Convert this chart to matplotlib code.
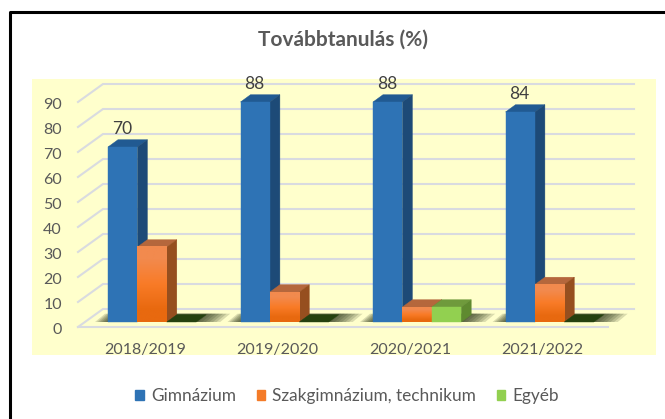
import matplotlib
matplotlib.use("Agg")
import matplotlib.pyplot as plt
import numpy as np
from matplotlib.patches import Polygon, Rectangle, Patch

plt.rcParams['font.family'] = ['Lato', 'DejaVu Sans']

# data
years = ["2018/2019", "2019/2020", "2020/2021", "2021/2022"]
gimnazium = [70, 88, 88, 84]
szakgimnazium = [30, 12, 6, 15]
egyeb = [0, 0, 6, 0]
series_names = ["Gimnázium", "Szakgimnázium, technikum", "Egyéb"]
y_ticks = [0, 10, 20, 30, 40, 50, 60, 70, 80, 90]

W, H = 665, 419
PX_X = 132.5  # pixels per category
PX_Y = 2.5    # pixels per percent
X0, Y0 = 152, 322  # pixel position of first category / value 0


def dx(px):
    return px / PX_X


def dy(px):
    return px / PX_Y


def fx(px):
    return (px - X0) / PX_X


def fy(px):
    return (Y0 - px) / PX_Y


fig = plt.figure(figsize=(W / 100, H / 100), dpi=100)
ax = fig.add_axes([0, 0, 1, 1])
ax.set_axis_off()

# border + yellow panel
ax.plot([fx(10), fx(10), fx(W)], [fy(H), fy(12), fy(12)], color="black", lw=2.2, zorder=5)
ax.add_patch(Rectangle((fx(32), fy(355)), dx(624), dy(276), color="#ffffcc", lw=0, zorder=0))

# walls and floor
grid_c = "#d9dbe0"
depth_x, depth_y = dx(25), dy(18)
front_x, front_base = fx(78), fy(327)
for v in y_ticks:
    ax.plot([front_x, front_x + depth_x, fx(634)],
            [front_base + v, front_base + v + depth_y, front_base + v + depth_y],
            color=grid_c, lw=1.5, zorder=1, solid_joinstyle="miter")
    ax.text(fx(62), front_base + v - dy(3), str(v), ha="right", va="center",
            fontsize=11.5, color="#595959", zorder=6)
ax.plot([front_x, fx(608)], [front_base, front_base], color=grid_c, lw=1.5, zorder=1)

bar_w = dx(29.4)
bar_dx, bar_dy = dx(10), dy(7.3)
styles = [
    dict(front="#2e73b5", top="#215a92", side="#1d4a77"),
    dict(front=("#f28a4e", "#f97b27", "#e8690f"), top="#b5673c", side="#964f1f"),
    dict(front="#92d050", top="#6f9a3c", side="#5f8a30"),
]
values = [gimnazium, szakgimnazium, egyeb]
zero_top = "#25410f"
z = 3.0
for i, name in enumerate(years):
    left = i - dx(44)
    # soft shadow on the floor
    for k in range(7):
        grow_l, grow_r = dx(13 - 2 * k), dx(24 - 3.6 * k)
        sx0, sx1 = left - grow_l, left + 3 * bar_w + grow_r
        ax.add_patch(Polygon([(sx0, 0), (sx1, 0), (sx1 + bar_dx, bar_dy + dy(1)),
                              (sx0 + bar_dx, bar_dy + dy(1))],
                             closed=True, color="#1f2a10", alpha=0.16, lw=0, zorder=2))
    for j, vals in enumerate(values):
        v = vals[i]
        st = styles[j]
        x = left + j * bar_w
        top_c = st["top"] if v > 0 else zero_top
        ax.add_patch(Polygon([(x, v), (x + bar_w, v), (x + bar_w + bar_dx, v + bar_dy),
                              (x + bar_dx, v + bar_dy)],
                             closed=True, fc=top_c, ec=top_c, lw=0.3, zorder=z))
        if v > 0:
            ax.add_patch(Polygon([(x + bar_w, 0), (x + bar_w + bar_dx, bar_dy),
                                  (x + bar_w + bar_dx, v + bar_dy), (x + bar_w, v)],
                                 closed=True, fc=st["side"], ec=st["side"], lw=0.3, zorder=z))
            if isinstance(st["front"], tuple):
                grad = matplotlib.colors.to_rgba_array(st["front"])[:, :3].reshape(3, 1, 3)
                ax.imshow(grad, extent=(x, x + bar_w, 0, v), aspect="auto",
                          interpolation="bilinear", zorder=z + 0.01)
            else:
                ax.add_patch(Rectangle((x, 0), bar_w, v, fc=st["front"], ec=st["front"],
                                       lw=0.3, zorder=z + 0.01))
        z += 0.1
    # data label only for the first series
    ax.text(left + dx(14), gimnazium[i] + dy(18), str(gimnazium[i]), ha="center", va="center",
            fontsize=12.5, color="#404040", zorder=6)
    ax.text(i - dx(7), fy(350), name, ha="center", va="center",
            fontsize=11.5, color="#595959", zorder=6)

ax.text(fx(342.5), fy(40), "Továbbtanulás (%)", ha="center", va="center",
        fontsize=15, fontweight="bold", color="#595959")

handles = [Patch(color=c) for c in ("#2e73b5", "#f47b28", "#92d050")]
ax.legend(handles, series_names, ncol=3, frameon=False, fontsize=12.4, labelcolor="#595959",
          loc="center", bbox_to_anchor=(347 / W, 1 - 396 / H), handlelength=0.5, handleheight=0.5,
          handletextpad=0.4, columnspacing=1.2, borderpad=0, borderaxespad=0)

ax.set_xlim(fx(0), fx(W))
ax.set_ylim(fy(H), fy(0))

fig.savefig("out.png", dpi=100)
